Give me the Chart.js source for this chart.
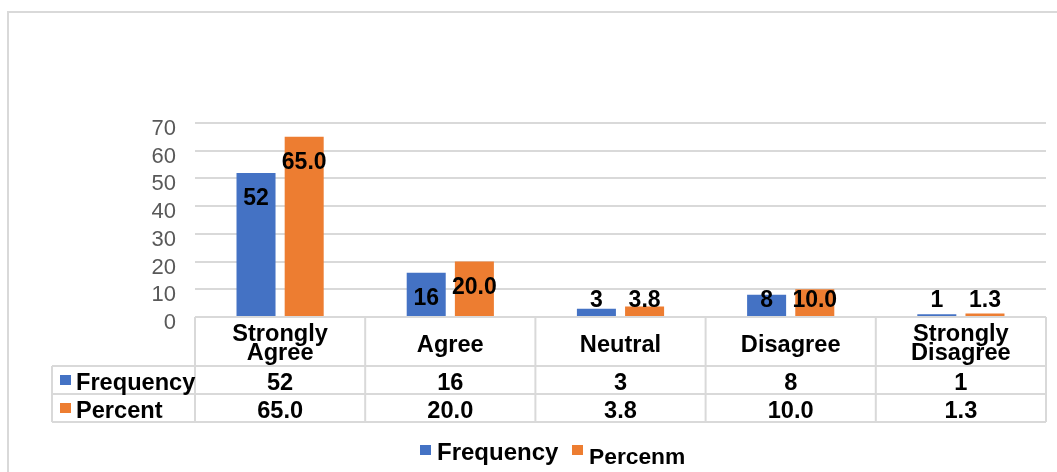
<!DOCTYPE html>
<html>
<head>
<meta charset="utf-8">
<script src="https://cdn.jsdelivr.net/npm/chart.js@4/dist/chart.umd.min.js"></script>
<style>
  html, body { margin: 0; padding: 0; background: #ffffff; }
  #wrap { width: 1057px; height: 472px; position: relative; }
</style>
</head>
<body>
<div id="wrap"><canvas id="c" width="1057" height="472"></canvas></div>
<script>
// Survey responses
const categories = [["Strongly", "Agree"], ["Agree"], ["Neutral"], ["Disagree"], ["Strongly", "Disagree"]];
const frequency = [52, 16, 3, 8, 1];
const percent = [65.0, 20.0, 3.8, 10.0, 1.3];
const seriesNames = ["Frequency", "Percent"];
const legendLabels = ["Frequency", "Percenm"];
const yTickStep = 10;
const yMax = 70;

const BLUE = "#4472C4";
const ORANGE = "#ED7D31";
const GRID = "#d9d9d9";
const FONT = "'Liberation Sans', Arial, sans-serif";
const LABEL_FONT = "bold 23px " + FONT;
const TABLE_FONT = "bold 23.6px " + FONT;

function fmt(di, v) { return di === 0 ? String(v) : v.toFixed(1); }

// Outer frame, value labels, data table and legend
const decorations = {
  id: "decorations",
  beforeDraw(chart) {
    const ctx = chart.ctx;
    ctx.save();
    ctx.strokeStyle = GRID;
    ctx.lineWidth = 2;
    ctx.beginPath();
    ctx.moveTo(8, 472);
    ctx.lineTo(8, 12);
    ctx.lineTo(1057, 12);
    ctx.stroke();
    ctx.restore();
  },
  afterDatasetsDraw(chart) {
    const ctx = chart.ctx;
    ctx.save();
    ctx.fillStyle = "#000";
    ctx.font = LABEL_FONT;
    ctx.textAlign = "center";
    ctx.textBaseline = "middle";
    chart.data.datasets.forEach((ds, di) => {
      const meta = chart.getDatasetMeta(di);
      meta.data.forEach((bar, i) => {
        const y = Math.min(bar.y + 25, 300);
        ctx.fillText(fmt(di, ds.data[i]), bar.x, y + 1);
      });
    });
    ctx.restore();
  },
  afterDraw(chart) {
    const ctx = chart.ctx;
    const xs = chart.scales.x;
    const area = chart.chartArea;
    const n = categories.length;
    const step = (area.right - area.left) / n;
    const left = area.left, right = area.right;
    const top = area.bottom;
    const r1 = 366, r2 = 394, r3 = 422, tableLeft = 52;

    ctx.save();
    ctx.strokeStyle = GRID;
    ctx.lineWidth = 2;
    ctx.beginPath();
    // horizontal rules
    ctx.moveTo(left, top); ctx.lineTo(right, top);
    ctx.moveTo(tableLeft, r1); ctx.lineTo(right, r1);
    ctx.moveTo(tableLeft, r2); ctx.lineTo(right, r2);
    ctx.moveTo(tableLeft, r3); ctx.lineTo(right, r3);
    // vertical rules
    ctx.moveTo(tableLeft, r1); ctx.lineTo(tableLeft, r3);
    for (let i = 0; i <= n; i++) {
      const x = left + step * i;
      ctx.moveTo(x, top); ctx.lineTo(x, r3);
    }
    ctx.stroke();

    ctx.fillStyle = "#000";
    ctx.font = TABLE_FONT;
    ctx.textAlign = "center";
    ctx.textBaseline = "alphabetic";
    categories.forEach((lines, i) => {
      const cx = xs.getPixelForValue(i);
      if (lines.length === 2) {
        ctx.fillText(lines[0], cx, 341);
        ctx.fillText(lines[1], cx, 360);
      } else {
        ctx.fillText(lines[0], cx, 352);
      }
      ctx.fillText(fmt(0, frequency[i]), cx, 390);
      ctx.fillText(fmt(1, percent[i]), cx, 418);
    });

    // row headers with series keys
    ctx.textAlign = "left";
    ctx.fillStyle = BLUE;
    ctx.fillRect(60, 375, 11, 10);
    ctx.fillStyle = ORANGE;
    ctx.fillRect(60, 403, 11, 10);
    ctx.fillStyle = "#000";
    ctx.fillText(seriesNames[0], 76, 390);
    ctx.fillText(seriesNames[1], 76, 418);

    // legend
    ctx.fillStyle = BLUE;
    ctx.fillRect(420, 445, 11, 10);
    ctx.fillStyle = ORANGE;
    ctx.fillRect(572, 445, 11, 10);
    ctx.fillStyle = "#000";
    ctx.font = "bold 24px " + FONT;
    ctx.fillText(legendLabels[0], 437, 460);
    ctx.font = "bold 22.8px " + FONT;
    ctx.fillText(legendLabels[1], 589, 464);
    ctx.restore();
  }
};

new Chart(document.getElementById("c"), {
  type: "bar",
  data: {
    labels: categories.map(l => l.join(" ")),
    datasets: [
      { label: seriesNames[0], data: frequency, backgroundColor: BLUE },
      { label: seriesNames[1], data: percent, backgroundColor: ORANGE }
    ]
  },
  options: {
    responsive: false,
    animation: false,
    events: [],
    devicePixelRatio: 1,
    layout: { padding: { left: 0, right: 11, top: 123, bottom: 155 } },
    categoryPercentage: 0.566,
    barPercentage: 0.81,
    plugins: { legend: { display: false }, tooltip: { enabled: false } },
    scales: {
      x: { display: false },
      y: {
        min: 0,
        max: yMax,
        afterFit(scale) { scale.width = 195; },
        border: { display: false },
        grid: { color: GRID, lineWidth: 2, drawTicks: false },
        ticks: {
          stepSize: yTickStep,
          autoSkip: false,
          padding: 19,
          labelOffset: 6,
          color: "#595959",
          font: { family: FONT, size: 22 }
        }
      }
    }
  },
  plugins: [decorations]
});
</script>
</body>
</html>
